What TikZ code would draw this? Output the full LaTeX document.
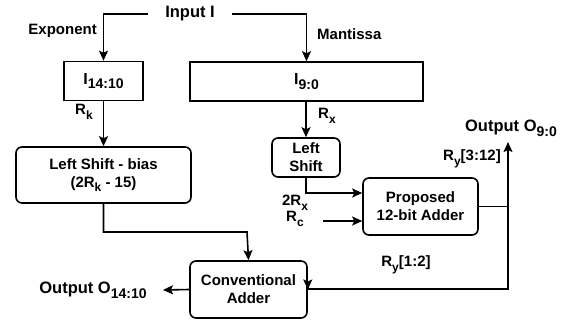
\documentclass[tikz,border=0pt]{standalone}
\usepackage{fontspec}
\setmainfont{Liberation Sans}
\usetikzlibrary{arrows.meta}
\newcommand{\mysub}[1]{\raisebox{-0.3em}{\fontsize{12}{12}\selectfont #1}}
\newcommand{\bigsub}[1]{\raisebox{-0.28em}{\fontsize{14}{14}\selectfont #1}}
\begin{document}
\begin{tikzpicture}[x=1pt,y=-1pt,
  lbl/.style={font=\fontsize{15}{16}\selectfont\bfseries, inner sep=0pt},
  outlbl/.style={font=\fontsize{16.5}{18}\selectfont\bfseries, inner sep=0pt},
  sqbox/.style={draw, line width=1.6pt, minimum width=#1, inner sep=0pt, minimum height=39, font=\fontsize{16}{17}\selectfont\bfseries},
  rbox/.style={draw, line width=1.6pt, rounded corners=6, inner sep=0pt, align=center, font=\fontsize{15}{18}\selectfont\bfseries},
  conn/.style={line width=1.6pt, -{Stealth[length=10,width=9,inset=2]}},
  wire/.style={line width=1.6pt}]
\useasboundingbox (0,0) rectangle (571,322);
\node[outlbl, inner xsep=17pt] (in) at (190,14) {Input I};
\node[sqbox=79] (exp) at (103.5,81) {I\bigsub{14:10}};
\node[sqbox=233] (man) at (306.5,81.5) {I\bigsub{9:0}};
\node[lbl, anchor=east] (explbl) at (97,31) {Exponent};
\node[lbl, anchor=west] (manlbl) at (317,34) {Mantissa};
\node[rbox, minimum width=175, minimum height=56] (lsb) at (103.5,175) {Left Shift - bias\\(2R\mysub{k} - 15)};
\node[lbl] (rk) at (84,112) {R\mysub{k}};
\node[lbl] (rx) at (327,116) {R\mysub{x}};
\node[rbox, minimum width=68, minimum height=39] (ls) at (306,157.5) {Left\\Shift};
\node[rbox, minimum width=115, minimum height=57] (pa) at (420.5,206.5) {Proposed\\12-bit Adder};
\node[rbox, minimum width=117, minimum height=57] (ca) at (248.5,289.5) {Conventional\\Adder};
\node[lbl] (tworx) at (295,203) {2R\mysub{x}};
\node[lbl] (rc) at (295,219) {R\mysub{c}};
\coordinate (rcs) at (323,221);
\node[outlbl] (o90) at (511,128) {Output O\bigsub{9:0}};
\node[outlbl] (o1410) at (93,290) {Output O\bigsub{14:10}};
\node[lbl] (ry312) at (472,159) {R\mysub{y}[3:12]};
\node[lbl] (ry12) at (406,265) {R\mysub{y}[1:2]};
\coordinate (sp) at (508,206.5);
\draw[conn] (in.west) -| (exp.north);
\draw[conn] (in.east) -| (man.north);
\draw[conn] (exp.south) -- (lsb.north);
\draw[conn] (lsb.south) |- (247,232) -- (ca.north);
\draw[conn] (man.south -| ls.north) -- (ls.north);
\draw[conn] (ls.south) |- (pa.west |- 0,193);
\draw[conn] (rcs) -- (rcs -| pa.west);
\draw[wire] (pa.east) -- (sp);
\draw[conn] (sp) -- (508,142);
\draw[conn] (sp) |- (ca.east |- 0,289) -- (ca.east);
\draw[conn] (ca.west) -- (163,290);
\end{tikzpicture}
\end{document}
